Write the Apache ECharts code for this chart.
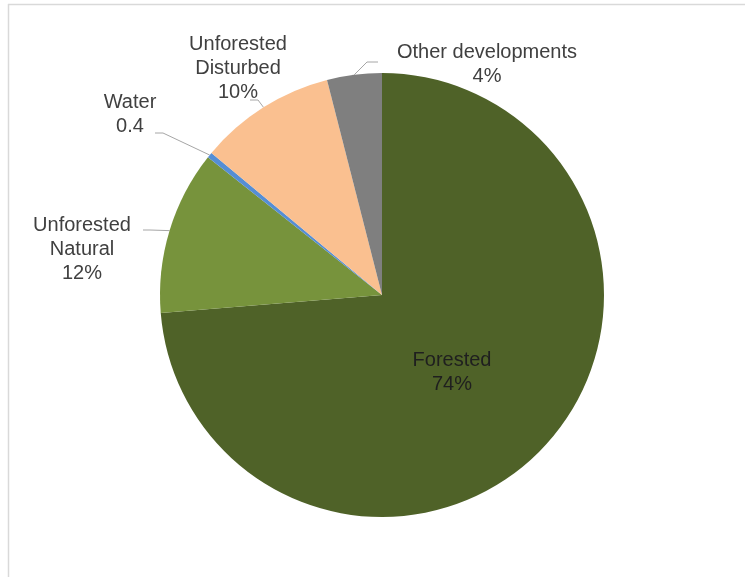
<!DOCTYPE html>
<html>
<head>
<meta charset="utf-8">
<script src="https://cdn.jsdelivr.net/npm/echarts@6/dist/echarts.min.js"></script>
<style>
  html, body { margin: 0; padding: 0; background: #ffffff; }
  #chart { width: 745px; height: 577px; }
</style>
</head>
<body>
<div id="chart"></div>
<script>
// ---- Data ----
var categories = ['Forested', 'Unforested\nNatural', 'Water', 'Unforested\nDisturbed', 'Other developments'];
var values = [74, 12, 0.4, 10, 4];
var valueLabels = ['74%', '12%', '0.4', '10%', '4%'];
var colors = ['#4F6228', '#77933C', '#558ED5', '#FAC090', '#7F7F7F'];

// ---- Label placement (Excel-style) ----
var labelPlace = [
  { x: 452, y: 372, inside: true },
  { x: 82,  y: 249, line: [[150, 230], [143, 230]] },
  { x: 130, y: 114, line: [[163, 133], [155, 133]] },
  { x: 238, y: 68,  line: [[258, 100], [250, 100]] },
  { x: 487, y: 64,  line: [[367, 62], [378, 62]] }
];

var chart = echarts.init(document.getElementById('chart'), null, { renderer: 'canvas' });

var seriesData = categories.map(function (name, i) {
  var item = {
    name: name,
    value: values[i],
    itemStyle: { color: colors[i] }
  };
  if (labelPlace[i].inside) {
    item.label = { position: 'inside', color: '#1f1f1f' };
    item.labelLine = { show: false };
  }
  return item;
});

chart.setOption({
  backgroundColor: '#ffffff',
  animation: false,
  graphic: [
    { type: 'line', shape: { x1: 8, y1: 4.5, x2: 745, y2: 4.5 }, style: { stroke: '#d9d9d9', lineWidth: 1.5 }, silent: true },
    { type: 'line', shape: { x1: 8.5, y1: 4, x2: 8.5, y2: 577 }, style: { stroke: '#d9d9d9', lineWidth: 1.5 }, silent: true }
  ],
  series: [{
    type: 'pie',
    center: [382, 295],
    radius: [0, 222],
    startAngle: 90,
    clockwise: true,
    avoidLabelOverlap: false,
    data: seriesData,
    itemStyle: { borderWidth: 0 },
    label: {
      show: true,
      position: 'outside',
      fontFamily: 'Liberation Sans, Arial, sans-serif',
      fontSize: 20,
      lineHeight: 24,
      color: '#404040',
      align: 'center',
      formatter: function (p) {
        return p.name + '\n' + valueLabels[p.dataIndex];
      }
    },
    labelLine: {
      show: true,
      length: 10,
      length2: 10,
      lineStyle: { color: '#a6a6a6', width: 1 }
    },
    emphasis: { disabled: true },
    labelLayout: function (params) {
      var pl = labelPlace[params.dataIndex];
      var out = {
        x: pl.x,
        y: pl.y,
        align: 'center',
        verticalAlign: 'middle'
      };
      if (!pl.inside && params.labelLinePoints) {
        var start = params.labelLinePoints[0];
        out.labelLinePoints = [start, pl.line[0], pl.line[1]];
      }
      return out;
    }
  }]
});
</script>
</body>
</html>
